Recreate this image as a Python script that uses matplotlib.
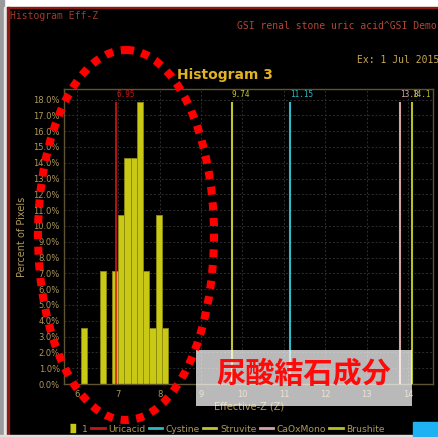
import matplotlib
matplotlib.use("Agg")
import matplotlib.pyplot as plt
from matplotlib.lines import Line2D
from matplotlib.patches import Rectangle, Ellipse

# Histogram of effective-Z values (percent of pixels per 0.15-wide bin)
bin_left = [6.10, 6.55, 6.85, 7.00, 7.15, 7.30, 7.45, 7.60, 7.75, 7.90, 8.05]
bin_pct = [3.57, 7.14, 7.14, 10.71, 14.29, 14.29, 17.86, 7.14, 3.57, 10.71, 3.57]
bin_width = 0.15
series_name = "1"

# Reference effective-Z values of stone types
ref_names = ["Uricacid", "Cystine", "Struvite", "CaOxMono", "Brushite"]
ref_values = [6.95, 11.15, 9.74, 13.8, 14.1]
ref_labels = ["6.95", "11.15", "9.74", "13.8", "14.1"]
ref_colors = ["#e01616", "#2fb8c6", "#c4c42c", "#d4a4a4", "#b8c21e"]
ref_alpha = [0.8, 1.0, 1.0, 1.0, 1.0]

x_ticks = [6, 7, 8, 9, 10, 11, 12, 13, 14]
y_ticks = list(range(0, 19))

W, H = 438, 437
TAN = "#b09a5a"
BAR = "#c9c814"

fig = plt.figure(figsize=(W / 100, H / 100), dpi=100, facecolor="black")

# ---- main histogram axes ----
left, right, top, bottom = 64, 433, 89, 384
ax = fig.add_axes([left / W, 1 - bottom / H, (right - left) / W, (bottom - top) / H])
ax.set_facecolor("black")
ax.set_xlim(5.69, 14.6)
ax.set_ylim(0, 18.67)

ax.bar(bin_left, bin_pct, width=bin_width, align="edge", color=BAR,
       edgecolor="#8c8a10", linewidth=0.6, zorder=2, label=series_name)

top_val = max(bin_pct)
for name, v, lab, c, a in zip(ref_names, ref_values, ref_labels, ref_colors, ref_alpha):
    ax.vlines(v, 0, top_val, colors=c, linewidth=1.5, alpha=a, zorder=3)
    ax.text(v, top_val + 0.15, lab, color=c, fontsize=5.5, family="DejaVu Sans Mono",
            ha="left", va="bottom", alpha=min(1, a + 0.1), zorder=4)

ax.set_xticks(x_ticks)
ax.set_xticklabels([str(t) for t in x_ticks])
ax.set_yticks(y_ticks)
ax.set_yticklabels([f"{t:.1f}%" for t in y_ticks])
ax.tick_params(axis="both", length=0, colors=TAN, labelsize=6)
ax.tick_params(axis="x", pad=4)
ax.tick_params(axis="y", pad=3)
ax.grid(True, color="#2e2e2e", linestyle=(0, (2, 2)), linewidth=0.7, zorder=0)
ax.set_axisbelow(True)
for s in ax.spines.values():
    s.set_color("#5e5432")
    s.set_linewidth(1)

ax.set_ylabel("Percent of Pixels", color=TAN, fontsize=7)
ax.yaxis.set_label_coords(-0.099, 0.5)
ax.set_xlabel("Effective-Z (Z)", color=TAN, fontsize=7)
ax.xaxis.set_label_coords(0.501, -0.061)

# ---- legend ----
handles = [Line2D([], [], marker=[(-0.6, -1), (0.6, -1), (0.6, 1), (-0.6, 1)],
                  ls="none", color=BAR, markersize=6)]
handles += [Line2D([], [], color=c, lw=2) for c in ref_colors]
handles[1].set_color("#c41818")
fig.legend(handles, [series_name] + ref_names, loc="center",
           bbox_to_anchor=(0.514, 1 - 429 / H), ncol=6, frameon=False,
           fontsize=6.6, labelcolor=TAN, handlelength=1.45, handletextpad=0.4,
           columnspacing=0.35, borderaxespad=0)

# ---- window frame and overlay (pixel coordinates) ----
ov = fig.add_axes([0, 0, 1, 1])
ov.set_xlim(0, W)
ov.set_ylim(H, 0)
ov.axis("off")
ov.patch.set_visible(False)

ov.add_patch(Rectangle((0, 0), W, 6.5, color="white", zorder=1))
ov.add_patch(Rectangle((0, 0), 4, H, color="#9a9a9a", zorder=1))
ov.add_patch(Rectangle((4, 6.5), 3, H, color="#e8e8e8", zorder=1))
ov.add_patch(Rectangle((7, 6.5), W, 1.8, color="#8a1a12", zorder=2))
ov.add_patch(Rectangle((7, 6.5), 1.6, H, color="#8a1a12", zorder=2))
ov.add_patch(Rectangle((0, 435), 413, 2, color="#e0e0e0", zorder=2))
ov.add_patch(Rectangle((413, 422), 25, 15, color="#1fb2f2", zorder=2))

ov.text(10, 16, "Histogram Eff-Z", color="#a23a2a", fontsize=7,
        family="DejaVu Sans Mono", ha="left", va="center")
ov.text(237, 26, "GSI renal stone uric acid^GSI Demo", color="#b04838", fontsize=7,
        family="DejaVu Sans Mono", ha="left", va="center")
ov.text(357, 60, "Ex: 1 Jul 2015", color="#c8a850", fontsize=7,
        family="DejaVu Sans Mono", ha="left", va="center")
ov.text(225, 75, "Histogram 3", color="#e0b224", fontsize=10, fontweight="bold",
        ha="center", va="center")

# highlighted caption box
ov.add_patch(Rectangle((196, 350), 216, 56, facecolor="white", alpha=0.73,
                       edgecolor="none", zorder=5))
ov.text(304, 374, "尿酸結石成分", color="#ff0a0a", fontsize=21, fontweight="bold",
        family=["Noto Sans CJK JP", "DejaVu Sans"], ha="center", va="center", zorder=6)

# dotted ellipse around the histogram
ov.add_patch(Ellipse((126, 235), 176, 370, fill=False, edgecolor="#ff0000",
                     linewidth=5.8, linestyle=(0, (1.0, 0.95)), zorder=7))

fig.savefig("out.png", dpi=100, facecolor="black")
